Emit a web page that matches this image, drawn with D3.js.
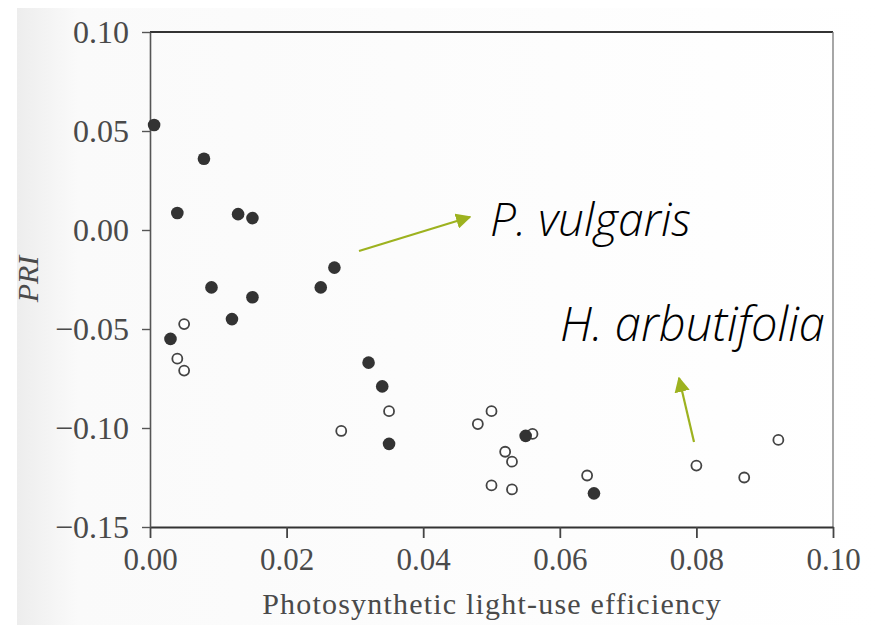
<!DOCTYPE html>
<html>
<head>
<meta charset="utf-8">
<script src="https://cdn.jsdelivr.net/npm/d3@7"></script>
<style>
  body { margin: 0; background: #fff; }
  svg { display: block; }
  .tick text { font-family: "Liberation Serif", "DejaVu Serif", serif; fill: #4a4a4a; }
</style>
</head>
<body>
<svg id="chart" width="880" height="625"></svg>
<script>
// PRI vs photosynthetic light-use efficiency
const xTicks = [0.00, 0.02, 0.04, 0.06, 0.08, 0.10];
const yTicks = [0.10, 0.05, 0.00, -0.05, -0.10, -0.15];

// filled dots
const filledX = [0.0006, 0.0079, 0.004, 0.0129, 0.015, 0.009, 0.015, 0.012, 0.003,
                 0.025, 0.027, 0.032, 0.034, 0.035, 0.055, 0.065];
const filledY = [0.053, 0.036, 0.0086, 0.008, 0.006, -0.029, -0.034, -0.045, -0.055,
                 -0.029, -0.019, -0.067, -0.079, -0.108, -0.104, -0.133];

// open dots
const openX = [0.005, 0.004, 0.005, 0.028, 0.035, 0.048, 0.050, 0.056, 0.052, 0.053,
               0.050, 0.053, 0.064, 0.080, 0.087, 0.092];
const openY = [-0.0475, -0.065, -0.071, -0.1015, -0.0915, -0.098, -0.0915, -0.103, -0.112, -0.117,
               -0.129, -0.131, -0.124, -0.119, -0.125, -0.106];

const svg = d3.select("svg#chart");

let margin = { top: 32, right: 47, bottom: 98, left: 150 };
let plotWidth = 880 - margin.left - margin.right;
let plotHeight = 625 - margin.top - margin.bottom;

// scanned page background
let defs = svg.append("defs");
let grad = defs.append("linearGradient").attr("id", "paper");
grad.append("stop").attr("offset", "0%").attr("stop-color", "#ededed");
grad.append("stop").attr("offset", "7%").attr("stop-color", "#fafafa");
grad.append("stop").attr("offset", "100%").attr("stop-color", "#ffffff");
svg.append("rect")
    .attr("x", 17).attr("y", 8)
    .attr("width", 863).attr("height", 617)
    .attr("fill", "url(#paper)");

let xScale = d3.scaleLinear().domain([0, 0.10]).range([0, plotWidth]);
let yScale = d3.scaleLinear().domain([-0.15, 0.10]).range([plotHeight, 0]);

let plot = svg.append("g")
    .attr("transform", "translate(" + margin.left + "," + margin.top + ")");

// frame: top and right
plot.append("line")
    .attr("x1", 0).attr("x2", plotWidth).attr("y1", 0).attr("y2", 0)
    .attr("stroke", "#333").attr("stroke-width", 2);
plot.append("line")
    .attr("x1", plotWidth).attr("x2", plotWidth).attr("y1", 0).attr("y2", plotHeight)
    .attr("stroke", "#777").attr("stroke-width", 1.3);

let xAxis = d3.axisBottom(xScale).tickValues(xTicks)
    .tickFormat(d3.format(".2f")).tickSize(11).tickPadding(10).tickSizeOuter(0);
let yAxis = d3.axisLeft(yScale).tickValues(yTicks)
    .tickFormat(d => d3.format(".2f")(d).replace("-", "\u2013"))
    .tickSize(8).tickPadding(13).tickSizeOuter(0);

let gx = plot.append("g")
    .attr("transform", "translate(0," + plotHeight + ")")
    .call(xAxis);
let gy = plot.append("g").call(yAxis);

gx.select(".domain").attr("stroke", "#333").attr("stroke-width", 2.2);
gy.select(".domain").attr("stroke", "#555").attr("stroke-width", 1.6);
gx.selectAll(".tick line").attr("stroke", "#444").attr("stroke-width", 1.8);
gy.selectAll(".tick line").attr("stroke", "#555").attr("stroke-width", 1.4);
gx.selectAll(".tick text").style("font-size", "31px");
gy.selectAll(".tick text").style("font-size", "32px").attr("dy", "0.34em");

// axis titles
svg.append("text")
    .attr("x", 492).attr("y", 614)
    .attr("text-anchor", "middle")
    .style("font-family", "'Liberation Serif', 'DejaVu Serif', serif")
    .style("font-size", "30px")
    .style("letter-spacing", "1.2px")
    .style("fill", "#4a4a4a")
    .text("Photosynthetic light-use efficiency");

svg.append("text")
    .attr("transform", "translate(38,279) rotate(-90)")
    .attr("text-anchor", "middle")
    .style("font-family", "'Liberation Serif', 'DejaVu Serif', serif")
    .style("font-style", "italic")
    .style("font-size", "30px")
    .style("fill", "#4a4a4a")
    .text("PRI");

// points
let filled = filledX.map((x, i) => ({ x: x, y: filledY[i] }));
let open = openX.map((x, i) => ({ x: x, y: openY[i] }));

plot.selectAll("circle.open")
    .data(open)
    .enter()
    .append("circle")
    .attr("class", "open")
    .attr("cx", d => xScale(d.x))
    .attr("cy", d => yScale(d.y))
    .attr("r", 5)
    .attr("fill", "#fff")
    .attr("stroke", "#444")
    .attr("stroke-width", 1.8);

plot.selectAll("circle.filled")
    .data(filled)
    .enter()
    .append("circle")
    .attr("class", "filled")
    .attr("cx", d => xScale(d.x))
    .attr("cy", d => yScale(d.y))
    .attr("r", 6.3)
    .attr("fill", "#333");

// annotations
let arrowColor = "#9db21f";
defs.append("marker")
    .attr("id", "head")
    .attr("viewBox", "0 0 10 10")
    .attr("refX", 9).attr("refY", 5)
    .attr("markerWidth", 7).attr("markerHeight", 7)
    .attr("markerUnits", "strokeWidth")
    .attr("orient", "auto")
    .append("path")
    .attr("d", "M0,0 L10,5 L0,10 z")
    .attr("fill", arrowColor);

svg.append("line")
    .attr("x1", 359).attr("y1", 251).attr("x2", 470).attr("y2", 217)
    .attr("stroke", arrowColor).attr("stroke-width", 2.2)
    .attr("marker-end", "url(#head)");
svg.append("line")
    .attr("x1", 694).attr("y1", 442).attr("x2", 679).attr("y2", 378)
    .attr("stroke", arrowColor).attr("stroke-width", 2.2)
    .attr("marker-end", "url(#head)");

let labelFont = "'Open Sans', 'Noto Sans', sans-serif";
svg.append("text")
    .attr("x", 490).attr("y", 236)
    .style("font-family", labelFont)
    .style("font-style", "italic")
    .style("font-weight", 300)
    .style("font-size", "46px")
    .style("fill", "#000")
    .text("P. vulgaris");
svg.append("text")
    .attr("x", 560).attr("y", 341)
    .style("font-family", labelFont)
    .style("font-style", "italic")
    .style("font-weight", 300)
    .style("font-size", "47px")
    .style("fill", "#000")
    .text("H. arbutifolia");
</script>
</body>
</html>
